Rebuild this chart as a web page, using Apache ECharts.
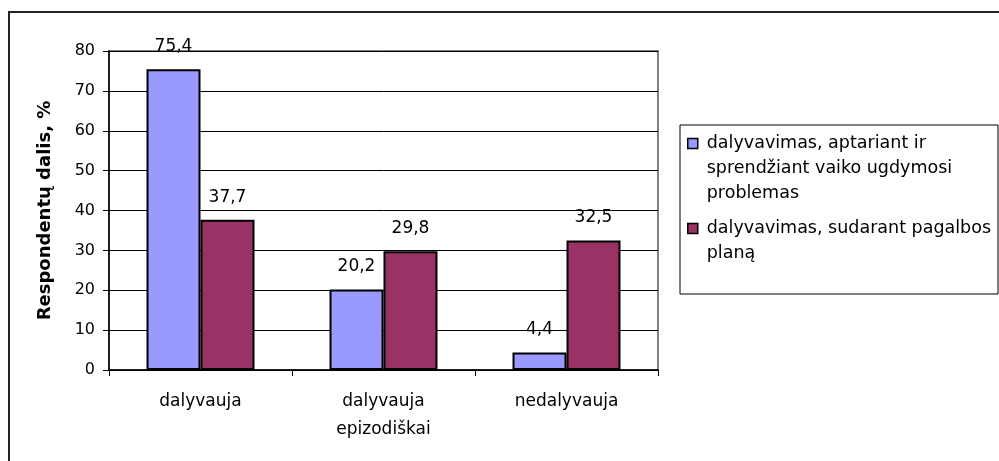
<!DOCTYPE html>
<html>
<head>
<meta charset="utf-8">
<script src="https://cdn.jsdelivr.net/npm/echarts@6/dist/echarts.min.js"></script>
<style>
  html, body { margin: 0; padding: 0; background: #fff; }
  #chart { width: 999px; height: 461px; }
</style>
</head>
<body>
<div id="chart"></div>
<script>
const categories = ['dalyvauja', 'dalyvauja\nepizodiškai', 'nedalyvauja']
const seriesNames = [
  'dalyvavimas, aptariant ir sprendžiant vaiko ugdymosi problemas',
  'dalyvavimas, sudarant pagalbos planą'
]
const discussValues = [75.4, 20.2, 4.4]
const planValues = [37.7, 29.8, 32.5]
const yTicks = [0, 10, 20, 30, 40, 50, 60, 70, 80]

// legend text split the way the original wraps it
const legendLines = {}
legendLines[seriesNames[0]] = ['dalyvavimas, aptariant ir', 'sprendžiant vaiko ugdymosi', 'problemas']
legendLines[seriesNames[1]] = ['dalyvavimas, sudarant pagalbos', 'planą']

const font = 'DejaVu Sans, Liberation Sans, sans-serif'

const chart = echarts.init(document.getElementById('chart'))

const barLabel = {
  show: true,
  position: 'top',
  distance: 14,
  color: '#000',
  fontSize: 17,
  fontFamily: font,
  formatter: p => String(p.value).replace('.', ',')
}

const option = {
  animation: false,
  backgroundColor: '#fff',
  textStyle: { fontFamily: font },
  graphic: [
    {
      type: 'rect',
      shape: { x: 9, y: 12, width: 1000, height: 460 },
      style: { fill: 'none', stroke: '#222', lineWidth: 2 },
      z: -1
    },
    {
      type: 'rect',
      shape: { x: 680, y: 125, width: 318, height: 169 },
      style: { fill: 'none', stroke: '#000', lineWidth: 1 },
      z: -1
    }
  ],
  grid: {
    left: 109,
    top: 51,
    right: 341,
    bottom: 91,
    show: true,
    backgroundColor: '#fff',
    borderColor: '#808080',
    borderWidth: 2
  },
  legend: {
    orient: 'vertical',
    left: 687,
    top: 81,
    itemWidth: 10,
    itemHeight: 10,
    itemGap: -15,
    icon: 'rect',
    padding: 0,
    itemStyle: { borderColor: '#000', borderWidth: 1.5 },
    textStyle: {
      fontSize: 17.5,
      lineHeight: 25,
      color: '#000',
      fontFamily: font,
      padding: [0, 0, 0, 4]
    },
    formatter: name => {
      const lines = legendLines[name]
      const pad = new Array(lines.length - 1).fill('')
      return pad.concat(lines).join('\n')
    },
    data: seriesNames
  },
  xAxis: {
    type: 'category',
    data: categories,
    axisLine: { lineStyle: { color: '#000', width: 1.5 } },
    axisTick: { show: true, length: 6, lineStyle: { color: '#000' } },
    axisLabel: {
      interval: 0,
      margin: 18,
      color: '#000',
      fontSize: 17,
      lineHeight: 28,
      fontFamily: font
    }
  },
  yAxis: {
    type: 'value',
    min: 0,
    max: 80,
    interval: 10,
    name: 'Respondentų dalis, %',
    nameLocation: 'middle',
    nameGap: 55,
    nameTextStyle: { fontSize: 18, fontWeight: 'bold', color: '#000', fontFamily: font },
    axisLine: { show: true, lineStyle: { color: '#000', width: 1.5 } },
    axisTick: { show: true, length: 6, lineStyle: { color: '#000' } },
    axisLabel: {
      margin: 14,
      color: '#000',
      fontSize: 16,
      fontFamily: font,
      formatter: v => (yTicks.indexOf(v) >= 0 ? String(v) : '')
    },
    splitLine: { lineStyle: { color: '#000', width: 1 } }
  },
  series: [
    {
      name: seriesNames[0],
      type: 'bar',
      data: discussValues,
      barGap: '0%',
      barCategoryGap: '41%',
      itemStyle: { color: '#9999FF', borderColor: '#000', borderWidth: 2 },
      label: barLabel
    },
    {
      name: seriesNames[1],
      type: 'bar',
      data: planValues,
      barGap: '0%',
      barCategoryGap: '41%',
      itemStyle: { color: '#993366', borderColor: '#000', borderWidth: 2 },
      label: barLabel
    }
  ]
}

chart.setOption(option)
</script>
</body>
</html>
